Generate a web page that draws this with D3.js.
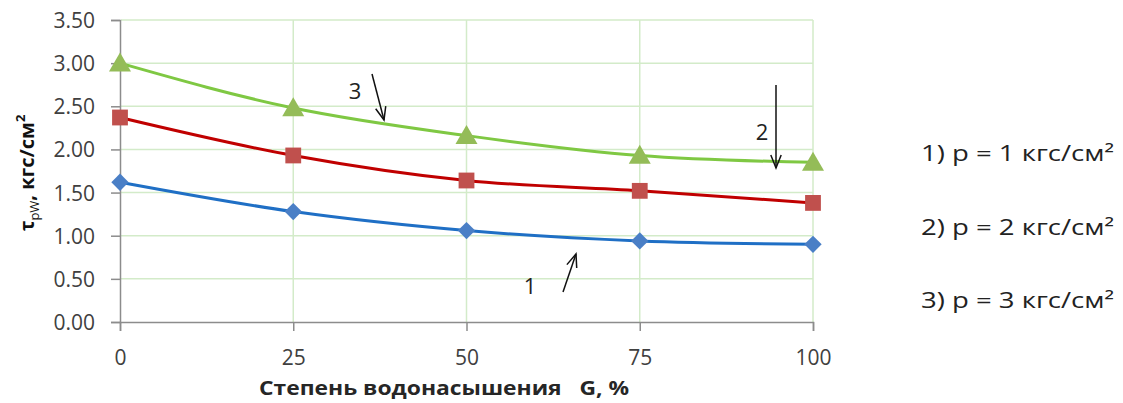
<!DOCTYPE html>
<html>
<head>
<meta charset="utf-8">
<script src="https://cdn.jsdelivr.net/npm/d3@7/dist/d3.min.js"></script>
<style>
  html, body { margin: 0; padding: 0; background: #fff; }
  svg { display: block; font-family: "Open Sans", "Noto Sans", sans-serif; }
</style>
</head>
<body>
<svg id="chart" width="1123" height="403"></svg>
<script>
// Degree of water saturation G, %
const saturation = [0, 25, 50, 75, 100];
// Shear strength τ, kgf/cm², for three normal pressures
const seriesP1 = [1.62, 1.28, 1.06, 0.94, 0.90];
const seriesP2 = [2.37, 1.93, 1.64, 1.52, 1.38];
const seriesP3 = [3.00, 2.48, 2.16, 1.93, 1.85];
const yTicks = [0, 0.5, 1.0, 1.5, 2.0, 2.5, 3.0, 3.5];
const xTicks = [0, 25, 50, 75, 100];
const legendLabels = ["1) p = 1 кгс/см²", "2) p = 2 кгс/см²", "3) p = 3 кгс/см²"];

const svg = d3.select("#chart");
const x = d3.scaleLinear().domain([0, 100]).range([120, 813]);
const y = d3.scaleLinear().domain([0, 3.5]).range([322, 20]);

// grid
const grid = svg.append("g");
grid.selectAll("line.h").data(yTicks.filter(d => d > 0)).join("line")
  .attr("x1", x(0) + 1).attr("x2", x(100))
  .attr("y1", d => y(d)).attr("y2", d => y(d))
  .attr("stroke", "#d3ebc9").attr("stroke-width", 1.5);
grid.selectAll("line.v").data(xTicks.filter(d => d > 0)).join("line")
  .attr("x1", d => x(d)).attr("x2", d => x(d))
  .attr("y1", y(3.5)).attr("y2", y(0))
  .attr("stroke", "#d3ebc9").attr("stroke-width", 1.5);

// axes
const yAxis = svg.append("g").attr("transform", `translate(${x(0)},0)`)
  .call(d3.axisLeft(y).tickValues(yTicks).tickFormat(d3.format(".2f")).tickSize(9).tickPadding(16));
const xAxis = svg.append("g").attr("transform", `translate(0,${y(0)})`)
  .call(d3.axisBottom(x).tickValues(xTicks).tickSize(9).tickPadding(19));
[yAxis, xAxis].forEach(a => {
  a.select(".domain").attr("stroke", "#8c8c8c").attr("stroke-width", 1.5);
  a.selectAll(".tick line").attr("stroke", "#8c8c8c").attr("stroke-width", 1.5);
  a.selectAll(".tick text").attr("fill", "#404040").style("font-size", "21px")
    .style("font-family", "'Open Sans', sans-serif");
});
yAxis.selectAll(".tick text").attr("dy", "0.36em");

// series
const series = [
  { values: seriesP1, line: "#1f6fc5", fill: "#4a7fc6", shape: "diamond" },
  { values: seriesP2, line: "#c00000", fill: "#c0504d", shape: "square" },
  { values: seriesP3, line: "#7fc843", fill: "#94bc58", shape: "triangle" }
];
const lineGen = d3.line().x(d => x(d[0])).y(d => y(d[1])).curve(d3.curveMonotoneX);
// diamonds are squares turned by 45°
const symbols = { diamond: d3.symbolSquare, square: d3.symbolSquare, triangle: d3.symbolTriangle };
const sizes = { diamond: 150, square: 250, triangle: 210 };
const rotation = { diamond: 45, square: 0, triangle: 0 };

series.forEach(s => {
  const pts = saturation.map((g, i) => [g, s.values[i]]);
  svg.append("path").datum(pts).attr("d", lineGen)
    .attr("fill", "none").attr("stroke", s.line).attr("stroke-width", 3);
  svg.selectAll(null).data(pts).join("path")
    .attr("transform", d => `translate(${x(d[0])},${y(d[1]) + (s.shape === "triangle" ? 2 : 0)}) rotate(${rotation[s.shape]})`)
    .attr("d", d3.symbol().type(symbols[s.shape]).size(sizes[s.shape]))
    .attr("fill", s.fill);
});

// curve number annotations with hand-drawn arrows
const ann = svg.append("g").attr("stroke", "#111").attr("fill", "none").attr("stroke-width", 1.5);
function arrow(x1, y1, x2, y2) {
  ann.append("line").attr("x1", x1).attr("y1", y1).attr("x2", x2).attr("y2", y2);
  const a = Math.atan2(y2 - y1, x2 - x1), L = 14, w = 0.38;
  ann.append("polyline").attr("points", [
    [x2 - L * Math.cos(a - w), y2 - L * Math.sin(a - w)], [x2, y2],
    [x2 - L * Math.cos(a + w), y2 - L * Math.sin(a + w)]].map(p => p.join(",")).join(" "));
}
arrow(372, 74, 384, 120);
arrow(776, 85, 776, 168);
arrow(563, 292, 576, 254);
const annText = [["3", 355, 99], ["2", 762, 140], ["1", 530, 294]];
svg.selectAll("text.ann").data(annText).join("text")
  .attr("x", d => d[1]).attr("y", d => d[2]).text(d => d[0])
  .attr("text-anchor", "middle").style("font-size", "22px").attr("fill", "#222");

// axis titles
svg.append("text").attr("x", 259).attr("y", 395)
  .attr("textLength", 370).attr("lengthAdjust", "spacingAndGlyphs")
  .style("font-size", "20px").style("font-weight", "bold").attr("fill", "#262626")
  .attr("xml:space", "preserve")
  .text("Степень водонасышения   G, %");

const yt = svg.append("text").attr("transform", "translate(34,173) rotate(-90)")
  .attr("text-anchor", "middle").style("font-weight", "bold").attr("fill", "#111")
  .style("font-size", "20px");
yt.append("tspan").text("τ");
yt.append("tspan").attr("dy", 5).style("font-size", "13px").style("font-weight", "normal").text("рW");
yt.append("tspan").attr("dy", -5).text(", кгс/см");
yt.append("tspan").attr("dy", -9).style("font-size", "13px").text("2");

// legend
svg.selectAll("text.leg").data(legendLabels).join("text")
  .attr("x", 921).attr("y", (d, i) => 161 + i * 73.5)
  .attr("textLength", 193).attr("lengthAdjust", "spacingAndGlyphs")
  .text(d => d).style("font-size", "22px").attr("fill", "#222");
</script>
</body>
</html>
